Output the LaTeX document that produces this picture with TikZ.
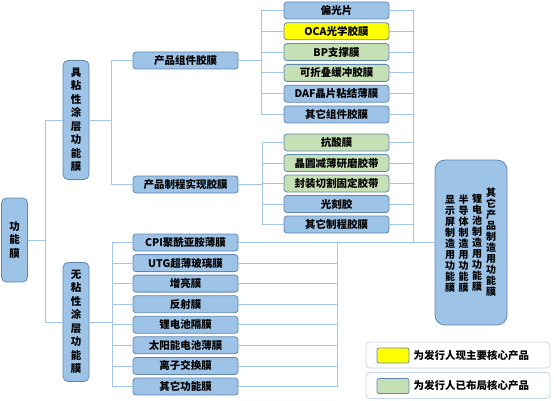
\documentclass[tikz,border=0pt]{standalone}
\usepackage{fontspec}
\setmainfont{Noto Sans CJK SC}
\usetikzlibrary{positioning}

\definecolor{filmblue}{RGB}{157,195,230}
\definecolor{plangreen}{RGB}{197,224,180}
\definecolor{coreyellow}{RGB}{255,255,0}
\definecolor{boxline}{RGB}{96,135,178}
\definecolor{linkblue}{RGB}{162,198,232}
\definecolor{keyline}{RGB}{200,214,232}

\tikzset{
  film/.style={draw=boxline, fill=filmblue, line width=0.8pt, rounded corners=3pt,
    minimum width=105pt, minimum height=17pt, inner sep=0pt,
    font=\fontsize{10.5}{12}\selectfont\bfseries},
  tallbox/.style={film, minimum width=26pt, align=center, rounded corners=5pt,
    font=\fontsize{10.5}{13.5}\selectfont\bfseries},
  vtext/.style={align=center, inner sep=0pt, font=\fontsize{10}{11}\selectfont\bfseries},
  link/.style={draw=linkblue, line width=0.8pt},
  keybox/.style={draw=keyline, fill=white, line width=0.8pt, rounded corners=4pt,
    minimum width=184pt, minimum height=26pt},
  swatch/.style={draw=boxline, line width=0.8pt, rounded corners=2pt,
    minimum width=32pt, minimum height=15pt, inner sep=0pt},
}

\begin{document}
\begin{tikzpicture}[x=1pt,y=-1pt]
    \useasboundingbox (0,0) rectangle (554,401);

    % Define the coordinates of the buses
    \coordinate (bus0) at (45,240);
    \coordinate (bus1) at (111,120);
    \coordinate (bus2) at (112,322);
    \coordinate (bus3) at (261,60.5);
    \coordinate (bus4) at (262,184.5);
    \coordinate (lbus) at (337,242.5);
    \coordinate (rbus) at (413,242.5);

    % Draw the main boxes
    \node[tallbox, minimum height=84pt] (root) at (14.5,240) {功\\能\\膜};
    \node[tallbox, minimum height=119pt] (sticky) at (76,120) {具\\粘\\性\\涂\\层\\功\\能\\膜};
    \node[tallbox, minimum height=119pt] (plain) at (76,322) {无\\粘\\性\\涂\\层\\功\\能\\膜};
    \node[film] (parts) at (185.5,60.5) {产品组件胶膜};
    \node[film] (process) at (185.5,184.5) {产品制程实现胶膜};
    \node[film, minimum width=72pt, minimum height=165pt, rounded corners=10pt] (use) at (471,242.5) {};

    % Draw the lines
    \draw[link] (root.east) -- (bus0) |- (sticky.west);
    \draw[link] (bus0) |- (plain.west);
    \draw[link] (sticky.east) -- (bus1) |- (parts.west);
    \draw[link] (bus1) |- (process.west);
    \draw[link] (plain.east) -- (bus2);
    \draw[link] (parts.east) -- (bus3);
    \draw[link] (process.east) -- (bus4);
    \draw[link] (lbus) -- (use.west);

    \foreach \name/\ypos/\col/\text in {pol/10.5/filmblue/偏光片, oca/31.3/coreyellow/OCA光学胶膜,
        bp/52.1/plangreen/BP支撑膜, fold/72.9/plangreen/可折叠缓冲胶膜,
        daf/93.7/filmblue/DAF晶片粘结薄膜, opart/114.5/filmblue/其它组件胶膜}
    {
        \node[film, fill=\col] (\name) at (336.5,\ypos) {\text};
        \draw[link] (bus3) |- (\name.west);
        \draw[link] (\name.east) -| (rbus);
    }

    \foreach \name/\ypos/\col/\text in {acid/142.5/plangreen/抗酸膜, grind/163/plangreen/晶圆减薄研磨胶带,
        dicing/183.5/plangreen/封装切割固定胶带, resist/204/filmblue/光刻胶,
        oproc/224.5/filmblue/其它制程胶膜}
    {
        \node[film, fill=\col] (\name) at (336.5,\ypos) {\text};
        \draw[link] (bus4) |- (\name.west);
        \draw[link] (\name.east) -| (rbus);
    }

    \foreach \name/\ypos/\text in {cpi/242.5/CPI聚酰亚胺薄膜, utg/263.1/UTG超薄玻璃膜,
        bright/283.6/增亮膜, reflect/304.2/反射膜, sep/324.8/锂电池隔膜,
        solar/345.3/太阳能电池薄膜, ion/365.9/离子交换膜, ofunc/386.5/其它功能膜}
    {
        \node[film] (\name) at (185.5,\ypos) {\text};
        \draw[link] (bus2) |- (\name.west);
        \draw[link] (\name.east) -| (lbus);
    }

    % Text of the big box
    \node[vtext] (col1) at (491,242.5) {其\\它\\产\\品\\制\\造\\用\\功\\能\\膜};
    \node[vtext] (col2) at (477,242.5) {锂\\电\\池\\制\\造\\用\\功\\能\\膜};
    \node[vtext] (col3) at (463.5,243.5) {半\\导\\体\\制\\造\\用\\功\\能\\膜};
    \node[vtext] (col4) at (450,243.5) {显\\示\\屏\\制\\造\\用\\功\\能\\膜};

    % Legend
    \node[keybox] (key1) at (458,355) {};
    \node[keybox] (key2) at (458,385.5) {};
    \node[swatch, fill=coreyellow] (sw1) at (393,355.5) {};
    \node[swatch, fill=plangreen] (sw2) at (393,386) {};
    \node[right=4pt of sw1, inner sep=0pt, font=\fontsize{10.5}{12}\selectfont\bfseries] (txt1) {为发行人现主要核心产品};
    \node[right=4pt of sw2, inner sep=0pt, font=\fontsize{10.5}{12}\selectfont\bfseries] (txt2) {为发行人已布局核心产品};
\end{tikzpicture}
\end{document}
